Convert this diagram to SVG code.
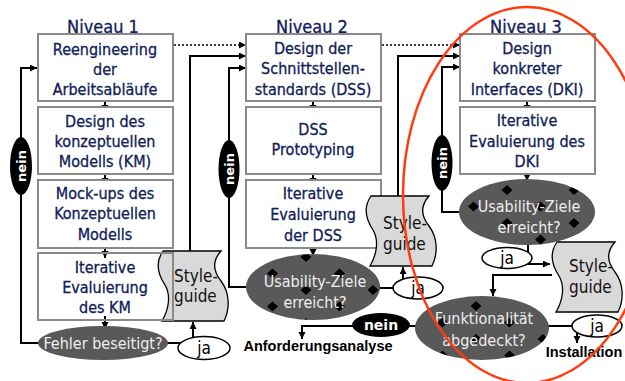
<svg xmlns="http://www.w3.org/2000/svg" width="625" height="381" viewBox="0 0 625 381">
<style>
.box{fill:#fff;stroke:#8a8a8a;stroke-width:2}
.bt{font-family:'DejaVu Sans Condensed','DejaVu Sans',sans-serif;font-size:16px;fill:#102058;stroke:#102058;stroke-width:0.3;text-anchor:middle}
.niv{font-family:'DejaVu Sans Condensed','DejaVu Sans',sans-serif;font-size:18px;fill:#102058;stroke:#102058;stroke-width:0.3;text-anchor:middle}
.sg{fill:#d9d9d9;stroke:#000;stroke-width:1.3}
.sgt{font-family:'DejaVu Sans Condensed','DejaVu Sans',sans-serif;font-size:17px;fill:#111}
.et{font-family:'DejaVu Sans Condensed','DejaVu Sans',sans-serif;font-size:16px;fill:#eeeeee;text-anchor:middle}
.pill{fill:#000}
.pt{font-family:'DejaVu Sans',sans-serif;font-weight:bold;font-size:13px;fill:#fff;text-anchor:middle}
.ja{fill:#fff;stroke:#000;stroke-width:1.5}
.jt{font-family:'DejaVu Sans Condensed','DejaVu Sans',sans-serif;font-size:17px;fill:#000;text-anchor:middle}
.lbl{font-family:'Liberation Sans',Arial,sans-serif;font-weight:bold;font-size:14.5px;fill:#000;text-anchor:middle}
.c{fill:none;stroke:#000;stroke-width:2;marker-end:url(#ah)}
.d{fill:none;stroke:#000;stroke-width:1.5;stroke-dasharray:2 2;marker-end:url(#ah)}
</style>
<defs>
<marker id="ah" markerUnits="userSpaceOnUse" markerWidth="8" markerHeight="8" refX="7" refY="3.5" orient="auto">
<path d="M0,0 L7,3.5 L0,7 z" fill="#000"/>
</marker>
<path id="sgshape" d="M6,0 H64 C55,10 56,20 64,30 C73,42 73,58 67,70 H5 C12,58 14,44 8,34 C0,22 -1,10 6,0 Z"/>
<g id="dia"><rect width="67" height="33" fill="#595959"/><polygon points="0,-5 5.5,0 0,5 -5.5,0"/><polygon points="67,-5 72.5,0 67,5 61.5,0"/><polygon points="0,28 5.5,33 0,38 -5.5,33"/><polygon points="67,28 72.5,33 67,38 61.5,33"/><polygon points="33.5,11.5 39,16.5 33.5,21.5 28,16.5"/></g>
<pattern id="p2" patternUnits="userSpaceOnUse" x="306" y="257" width="67" height="33"><use href="#dia"/></pattern>
<pattern id="p3" patternUnits="userSpaceOnUse" x="507" y="190" width="67" height="33"><use href="#dia"/></pattern>
<pattern id="pf" patternUnits="userSpaceOnUse" x="476" y="306" width="67" height="33"><use href="#dia"/></pattern>
</defs>

<g id="niveaus">
<text class="niv" x="103" y="33">Niveau 1</text>
<text class="niv" x="312" y="33">Niveau 2</text>
<text class="niv" x="526" y="33">Niveau 3</text>
</g>

<g id="connectors">
<path class="c" d="M105,96 V112"/>
<path class="c" d="M105,169 V185"/>
<path class="c" d="M105,243 V258"/>
<path class="c" d="M105,316 V329"/>
<path class="c" d="M313,96 V112"/>
<path class="c" d="M313,169 V185"/>
<path class="c" d="M313,243 V256"/>
<path class="c" d="M527,96 V112"/>
<path class="c" d="M527,169 V181"/>
<path class="d" d="M174,45 H246"/>
<path class="d" d="M382,45 H460"/>
<path class="c" d="M190,252 V56 H246"/>
<path class="c" d="M398,197 V56 H460"/>
<path class="c" d="M39,343 H21 V68 H37"/>
<path class="c" d="M248,287 H229 V68 H246"/>
<path class="c" d="M461,212 H442 V67 H460"/>
<path class="c" d="M166,343 H193 V322"/>
<path class="c" d="M379,288 H403 V267"/>
<path class="c" d="M528,244 V264 H550"/>
<path class="c" d="M552,275 H493 V296"/>
<path class="c" d="M416,326 H302 V339"/>
<path class="c" d="M548,326 H577 V343"/>
</g>

<g id="styleguide1">
<use href="#sgshape" class="sg" transform="translate(157,251)"/>
<text class="sgt" x="174" y="282">Style-</text>
<text class="sgt" x="174" y="302">guide</text>
</g>
<g id="styleguide3">
<use href="#sgshape" class="sg" transform="translate(551,242)"/>
<text class="sgt" x="569" y="272">Style-</text>
<text class="sgt" x="569" y="293">guide</text>
</g>

<g id="l1b1"><rect class="box" x="38" y="34" width="135" height="67"/>
<text class="bt" x="105" y="55">Reengineering</text><text class="bt" x="105" y="75">der</text><text class="bt" x="105" y="95">Arbeitsabläufe</text></g>
<g id="l1b2"><rect class="box" x="38" y="107" width="135" height="67"/>
<text class="bt" x="105" y="127">Design des</text><text class="bt" x="105" y="147">konzeptuellen</text><text class="bt" x="105" y="167">Modells (KM)</text></g>
<g id="l1b3"><rect class="box" x="38" y="180" width="135" height="68"/>
<text class="bt" x="105" y="199">Mock-ups des</text><text class="bt" x="105" y="219">Konzeptuellen</text><text class="bt" x="105" y="240">Modells</text></g>
<g id="l1b4"><rect class="box" x="38" y="253" width="135" height="67" style="fill:none"/>
<text class="bt" x="105" y="273">Iterative</text><text class="bt" x="105" y="293">Evaluierung</text><text class="bt" x="105" y="313">des KM</text></g>

<g id="l2b1"><rect class="box" x="246" y="34" width="135" height="67"/>
<text class="bt" x="313" y="54">Design der</text><text class="bt" x="313" y="74">Schnittstellen-</text><text class="bt" x="313" y="95">standards (DSS)</text></g>
<g id="l2b2"><rect class="box" x="246" y="107" width="135" height="67"/>
<text class="bt" x="313" y="135">DSS</text><text class="bt" x="313" y="155">Prototyping</text></g>
<g id="l2b3"><rect class="box" x="246" y="180" width="135" height="68"/>
<text class="bt" x="313" y="199">Iterative</text><text class="bt" x="313" y="220">Evaluierung</text><text class="bt" x="313" y="241">der DSS</text></g>
<g id="styleguide2">
<use href="#sgshape" class="sg" transform="translate(365,196)"/>
<text class="sgt" x="383" y="229">Style-</text>
<text class="sgt" x="383" y="250">guide</text>
</g>

<g id="l3b1"><rect class="box" x="460" y="34" width="135" height="67"/>
<text class="bt" x="527" y="54">Design</text><text class="bt" x="527" y="74">konkreter</text><text class="bt" x="527" y="95">Interfaces (DKI)</text></g>
<g id="l3b2"><rect class="box" x="460" y="107" width="135" height="67"/>
<text class="bt" x="527" y="126">Iterative</text><text class="bt" x="527" y="147">Evaluierung des</text><text class="bt" x="527" y="167">DKI</text></g>

<g id="fehler"><ellipse cx="103" cy="343" rx="65" ry="17" fill="#595959"/>
<text class="et" x="103" y="349">Fehler beseitigt?</text></g>
<g id="usab2"><ellipse cx="313" cy="287" rx="67" ry="33" fill="url(#p2)"/>
<text class="et" x="315" y="287">Usability-Ziele</text><text class="et" x="315" y="308">erreicht?</text></g>
<g id="usab3"><ellipse cx="527" cy="212" rx="68" ry="33" fill="url(#p3)"/>
<text class="et" x="529" y="212">Usability-Ziele</text><text class="et" x="529" y="233">erreicht?</text></g>
<g id="funkt"><ellipse cx="482" cy="328" rx="67" ry="32" fill="url(#pf)"/>
<text class="et" x="484" y="324">Funktionalität</text><text class="et" x="484" y="346">abgedeckt?</text></g>

<g id="nein1"><ellipse class="pill" cx="21" cy="166" rx="11" ry="29"/><text class="pt" transform="translate(21,166) rotate(-90)" y="5">nein</text></g>
<g id="nein2"><ellipse class="pill" cx="229" cy="169" rx="10.5" ry="29"/><text class="pt" transform="translate(229,169) rotate(-90)" y="5">nein</text></g>
<g id="nein3"><ellipse class="pill" cx="442" cy="163" rx="10.5" ry="28"/><text class="pt" transform="translate(442,163) rotate(-90)" y="5">nein</text></g>
<g id="nein4"><ellipse class="pill" cx="381" cy="325" rx="29" ry="12"/><text class="pt" x="381" y="330" style="font-size:14px">nein</text></g>

<g id="ja1"><ellipse class="ja" cx="204" cy="348" rx="26" ry="11.5"/><text class="jt" x="204" y="354">ja</text></g>
<g id="ja2"><ellipse class="ja" cx="418" cy="288" rx="25" ry="11"/><text class="jt" x="418" y="294">ja</text></g>
<g id="ja3"><ellipse class="ja" cx="507" cy="258" rx="25" ry="10.5"/><text class="jt" x="507" y="264">ja</text></g>
<g id="ja4"><ellipse class="ja" cx="597" cy="326" rx="25" ry="11"/><text class="jt" x="597" y="332">ja</text></g>

<g id="labels">
<text class="lbl" x="318" y="351">Anforderungsanalyse</text>
<text class="lbl" x="584" y="357">Installation</text>
</g>

<ellipse id="highlight" cx="527" cy="195" rx="124" ry="188" fill="none" stroke="#ff3b0f" stroke-width="2.5"/>
</svg>
